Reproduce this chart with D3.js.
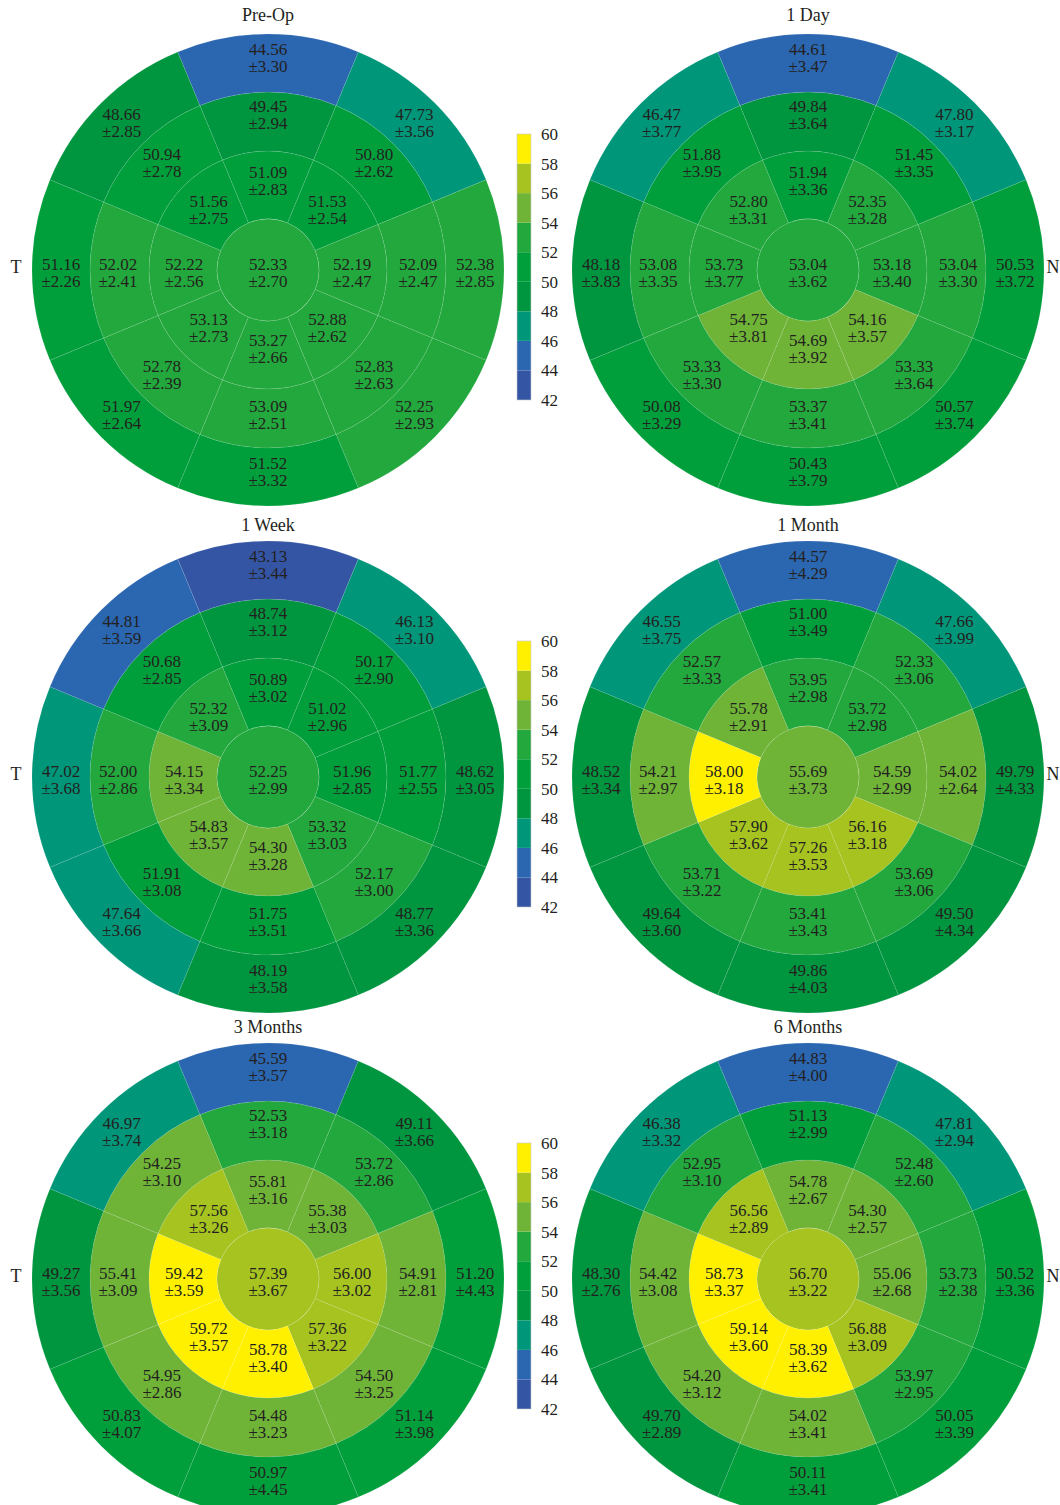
<!DOCTYPE html>
<html lang="en">
<head>
<meta charset="UTF-8">
<title>Polar maps</title>
<script src="https://d3js.org/d3.v7.min.js"></script>
<style>
    body { margin: 0; background: #fff; }
    text { font-family: "Liberation Serif", "DejaVu Serif", serif; fill: #231f20; }
</style>
</head>
<body>
<svg id="chart" width="1060" height="1505"></svg>
<script>
    // order: center, ring1 (top, UR, R, LR, B, LL, L, UL), ring2 (same), ring3 (same)
    const preOpMean  = [52.33, 51.09, 51.53, 52.19, 52.88, 53.27, 53.13, 52.22, 51.56,
                        49.45, 50.80, 52.09, 52.83, 53.09, 52.78, 52.02, 50.94,
                        44.56, 47.73, 52.38, 52.25, 51.52, 51.97, 51.16, 48.66];
    const preOpSD    = [2.70, 2.83, 2.54, 2.47, 2.62, 2.66, 2.73, 2.56, 2.75,
                        2.94, 2.62, 2.47, 2.63, 2.51, 2.39, 2.41, 2.78,
                        3.30, 3.56, 2.85, 2.93, 3.32, 2.64, 2.26, 2.85];
    const day1Mean   = [53.04, 51.94, 52.35, 53.18, 54.16, 54.69, 54.75, 53.73, 52.80,
                        49.84, 51.45, 53.04, 53.33, 53.37, 53.33, 53.08, 51.88,
                        44.61, 47.80, 50.53, 50.57, 50.43, 50.08, 48.18, 46.47];
    const day1SD     = [3.62, 3.36, 3.28, 3.40, 3.57, 3.92, 3.81, 3.77, 3.31,
                        3.64, 3.35, 3.30, 3.64, 3.41, 3.30, 3.35, 3.95,
                        3.47, 3.17, 3.72, 3.74, 3.79, 3.29, 3.83, 3.77];
    const week1Mean  = [52.25, 50.89, 51.02, 51.96, 53.32, 54.30, 54.83, 54.15, 52.32,
                        48.74, 50.17, 51.77, 52.17, 51.75, 51.91, 52.00, 50.68,
                        43.13, 46.13, 48.62, 48.77, 48.19, 47.64, 47.02, 44.81];
    const week1SD    = [2.99, 3.02, 2.96, 2.85, 3.03, 3.28, 3.57, 3.34, 3.09,
                        3.12, 2.90, 2.55, 3.00, 3.51, 3.08, 2.86, 2.85,
                        3.44, 3.10, 3.05, 3.36, 3.58, 3.66, 3.68, 3.59];
    const month1Mean = [55.69, 53.95, 53.72, 54.59, 56.16, 57.26, 57.90, 58.00, 55.78,
                        51.00, 52.33, 54.02, 53.69, 53.41, 53.71, 54.21, 52.57,
                        44.57, 47.66, 49.79, 49.50, 49.86, 49.64, 48.52, 46.55];
    const month1SD   = [3.73, 2.98, 2.98, 2.99, 3.18, 3.53, 3.62, 3.18, 2.91,
                        3.49, 3.06, 2.64, 3.06, 3.43, 3.22, 2.97, 3.33,
                        4.29, 3.99, 4.33, 4.34, 4.03, 3.60, 3.34, 3.75];
    const month3Mean = [57.39, 55.81, 55.38, 56.00, 57.36, 58.78, 59.72, 59.42, 57.56,
                        52.53, 53.72, 54.91, 54.50, 54.48, 54.95, 55.41, 54.25,
                        45.59, 49.11, 51.20, 51.14, 50.97, 50.83, 49.27, 46.97];
    const month3SD   = [3.67, 3.16, 3.03, 3.02, 3.22, 3.40, 3.57, 3.59, 3.26,
                        3.18, 2.86, 2.81, 3.25, 3.23, 2.86, 3.09, 3.10,
                        3.57, 3.66, 4.43, 3.98, 4.45, 4.07, 3.56, 3.74];
    const month6Mean = [56.70, 54.78, 54.30, 55.06, 56.88, 58.39, 59.14, 58.73, 56.56,
                        51.13, 52.48, 53.73, 53.97, 54.02, 54.20, 54.42, 52.95,
                        44.83, 47.81, 50.52, 50.05, 50.11, 49.70, 48.30, 46.38];
    const month6SD   = [3.22, 2.67, 2.57, 2.68, 3.09, 3.62, 3.60, 3.37, 2.89,
                        2.99, 2.60, 2.38, 2.95, 3.41, 3.12, 3.08, 3.10,
                        4.00, 2.94, 3.36, 3.39, 3.41, 2.89, 2.76, 3.32];

    const titles = ["Pre-Op", "1 Day", "1 Week", "1 Month", "3 Months", "6 Months"];
    const means = [preOpMean, day1Mean, week1Mean, month1Mean, month3Mean, month6Mean];
    const sds = [preOpSD, day1SD, week1SD, month1SD, month3SD, month6SD];

    const thresholds = [44, 46, 48, 50, 52, 54, 56, 58];
    const binColors = ["#3455a4", "#2b66b0", "#009679", "#00953f", "#009f3b",
                       "#22a83c", "#6fb437", "#a6c320", "#fff000"];
    const colorTicks = [42, 44, 46, 48, 50, 52, 54, 56, 58, 60];

    const svg = d3.select("#chart");
    const color = d3.scaleThreshold().domain(thresholds).range(binColors);

    const radii = [0, 51, 119, 178, 236];
    const labelR = [0, 84, 150, 207];
    const colX = [268, 808];
    const rowY = [270, 777, 1279];
    const titleY = [-249, -246, -246];
    const step = Math.PI / 4;

    function drawMap(k) {
        const row = Math.floor(k / 2);
        const cx = colX[k % 2], cy = rowY[row];
        const g = svg.append("g").attr("transform", `translate(${cx},${cy})`);
        const vals = means[k], sd = sds[k];

        const cells = [{ ring: 0, idx: 0, i: 0 }];
        for (let ring = 1; ring <= 3; ring++) {
            for (let s = 0; s < 8; s++) cells.push({ ring: ring, idx: 1 + (ring - 1) * 8 + s, i: s });
        }

        const arc = d3.arc()
            .innerRadius(d => radii[d.ring])
            .outerRadius(d => radii[d.ring + 1])
            .startAngle(d => d.ring === 0 ? 0 : d.i * step - step / 2)
            .endAngle(d => d.ring === 0 ? 2 * Math.PI : d.i * step + step / 2);

        g.selectAll("path")
            .data(cells)
            .enter().append("path")
            .attr("d", arc)
            .attr("fill", d => color(vals[d.idx]))
            .attr("stroke", "rgba(255,255,255,0.09)")
            .attr("stroke-width", 1);

        // label anchors: vertical cells sit a bit higher, side cells a bit lower
        const lab = g.selectAll("g.lab")
            .data(cells)
            .enter().append("g")
            .attr("class", "lab")
            .attr("transform", d => {
                const a = d.i * step, r = labelR[d.ring];
                const c = Math.cos(a);
                const shift = d.ring === 0 ? 3 : 3 - 8 * c * c;
                return `translate(${r * Math.sin(a)},${-r * c + shift})`;
            });
        lab.append("text")
            .attr("text-anchor", "middle")
            .attr("y", -3)
            .style("font-size", "17px")
            .text(d => vals[d.idx].toFixed(2));
        lab.append("text")
            .attr("text-anchor", "middle")
            .attr("y", 14)
            .style("font-size", "17px")
            .text(d => "\u00b1" + sd[d.idx].toFixed(2));

        g.append("text")
            .attr("text-anchor", "middle")
            .attr("y", titleY[row])
            .style("font-size", "18px")
            .text(titles[k]);

        if (k % 2 === 0) {
            g.append("text").attr("x", -252).attr("y", 3)
                .attr("text-anchor", "middle").style("font-size", "18px").text("T");
        } else {
            g.append("text").attr("x", 245).attr("y", 3)
                .attr("text-anchor", "middle").style("font-size", "18px").text("N");
        }
    }

    function drawColorbar(row) {
        const cy = rowY[row];
        const y = d3.scaleLinear().domain([42, 60]).range([cy + 130, cy - 136]);
        const g = svg.append("g").attr("transform", "translate(517,0)");
        const bins = d3.range(9);
        g.selectAll("rect")
            .data(bins)
            .enter().append("rect")
            .attr("x", 0)
            .attr("width", 14)
            .attr("y", i => y(colorTicks[i + 1]))
            .attr("height", i => y(colorTicks[i]) - y(colorTicks[i + 1]))
            .attr("fill", i => binColors[i]);
        g.append("rect")
            .attr("x", 0).attr("width", 14)
            .attr("y", y(60)).attr("height", y(42) - y(60))
            .attr("fill", "none").attr("stroke", "#c8c8c8").attr("stroke-width", 0.6);

        const axis = d3.axisRight(y).tickValues(colorTicks).tickSize(0).tickPadding(10);
        const ax = g.append("g").attr("transform", "translate(14,0)").call(axis);
        ax.select(".domain").remove();
        ax.selectAll("text")
            .style("font-family", "'Liberation Serif', serif")
            .style("font-size", "17px")
            .attr("fill", "#231f20");
    }

    for (let k = 0; k < 6; k++) drawMap(k);
    for (let r = 0; r < 3; r++) drawColorbar(r);
</script>
</body>
</html>
